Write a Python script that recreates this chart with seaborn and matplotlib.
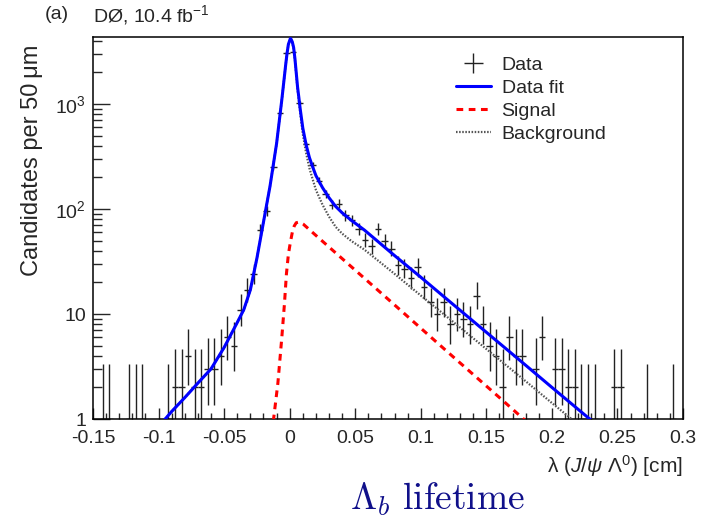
import numpy as np
import pandas as pd
import matplotlib
matplotlib.use("Agg")
import matplotlib.pyplot as plt
import seaborn as sns
from matplotlib.ticker import FixedLocator, FixedFormatter, LogLocator, NullFormatter

# ---------------- data ----------------
hist_lo, hist_hi, bin_width = -0.15, 0.30, 0.005
data_counts = [0, 1, 1, 0, 0, 1, 1, 1, 0, 0,
               0, 1, 2, 2, 4, 2, 2, 3, 3, 4,
               6, 5, 11, 17, 24, 63, 96, 251, 815, 3040,
               3150, 1028, 413, 262, 185, 138, 110, 112, 87, 78,
               65, 51, 44, 64, 50, 42, 29, 27, 22, 28,
               18, 13, 10, 13, 8, 10, 9, 8, 15, 8,
               5, 4, 2, 6, 4, 4, 0, 3, 6, 0,
               3, 3, 2, 2, 1, 1, 1, 0, 0, 2,
               2, 0, 0, 0, 1, 0, 0, 0, 1, 0]

fit_x = [-0.0965, -0.09, -0.08, -0.07, -0.06, -0.05, -0.04, -0.035, -0.03, -0.025,
         -0.02, -0.015, -0.01, -0.006, -0.003, -0.002, -0.001, 0.0005, 0.001, 0.002,
         0.003, 0.004, 0.005, 0.006, 0.007, 0.008, 0.010, 0.0125, 0.015, 0.0175,
         0.02, 0.025, 0.03, 0.035, 0.04, 0.047, 0.057, 0.08, 0.1, 0.12,
         0.15, 0.18, 0.2, 0.2314]
fit_total = [0.95, 1.18, 1.6, 2.2, 3.0, 4.8, 8.3, 11, 17, 34,
             75, 165, 420, 1100, 2400, 3050, 3700, 4200, 4150, 3900,
             3450, 2700, 1980, 1450, 1150, 900, 590, 410, 310, 252,
             208, 160, 128, 106, 92, 78, 63, 36, 22.4, 13.8,
             6.7, 3.25, 2.0, 0.94]
fit_bkg = [0.95, 1.18, 1.6, 2.2, 3.0, 4.8, 8.3, 11, 17, 34,
           75, 165, 419, 1094, 2383, 3030, 3665, 4152, 4097, 3840,
           3384, 2629, 1906, 1375, 1075, 826, 518, 342, 246, 192,
           152, 110, 84.5, 67.7, 58.3, 49.6, 41, 24.1, 15, 9.4,
           4.64, 2.29, 1.42, 0.68]
sig_x = [-0.0125, -0.009, -0.006, -0.004, -0.0025, -0.001, 0.0005, 0.002, 0.0035, 0.005,
         0.007, 0.009, 0.0102, 0.02, 0.04, 0.08, 0.12, 0.16, 0.18]
sig_y = [0.95, 2.2, 6, 12.5, 24, 37, 48, 60, 69, 74,
         75, 73.5, 72, 56, 33.7, 12.2, 4.4, 1.6, 0.96]

x_ticks = [-0.15, -0.1, -0.05, 0, 0.05, 0.1, 0.15, 0.2, 0.25, 0.3]
x_ticklabels = ["-0.15", "-0.1", "-0.05", "0", "0.05", "0.1", "0.15", "0.2", "0.25", "0.3"]
y_ticks = [1, 10, 100, 1000]
y_ticklabels = ["1", "10", r"$10^{2}$", r"$10^{3}$"]
legend_labels = ["Data", "Data fit", "Signal", "Background"]

# ---------------- style ----------------
sns.set_style("ticks")
plt.rcParams["font.family"] = ["Liberation Sans", "DejaVu Sans"]
plt.rcParams["mathtext.fontset"] = "custom"
plt.rcParams["mathtext.rm"] = "Liberation Sans"
plt.rcParams["mathtext.it"] = "Liberation Sans:italic"
plt.rcParams["mathtext.bf"] = "Liberation Sans:bold"

FS = 14

fig = plt.figure(figsize=(7.02, 5.30), dpi=100)
ax = fig.add_axes([0.1325, 0.2094, 0.8405, 0.7208])

# histogram points
edges = np.linspace(hist_lo, hist_hi, len(data_counts) + 1)
centers = 0.5 * (edges[:-1] + edges[1:])
counts = np.asarray(data_counts, dtype=float)
m = counts > 0
n = counts[m]
err_hi = np.sqrt(n + 0.75) + 1.0
err_lo = n - n * (1 - 1 / (9 * n) - 1 / (3 * np.sqrt(n))) ** 3
eb = ax.errorbar(centers[m], n, yerr=[err_lo, err_hi], xerr=bin_width / 2,
                 fmt="none", ecolor="#222222", elinewidth=1.0, capsize=0, zorder=2)

df_fit = pd.DataFrame({"x": fit_x, "total": fit_total, "bkg": fit_bkg})
df_sig = pd.DataFrame({"x": sig_x, "y": sig_y})

sns.lineplot(data=df_fit, x="x", y="bkg", ax=ax, color="#555555", linewidth=1.6,
             estimator=None, sort=False, zorder=3)
l_bkg = ax.lines[-1]
l_bkg.set_linestyle((0, (0.7, 0.7)))
sns.lineplot(data=df_sig, x="x", y="y", ax=ax, color="#ff0000", linewidth=2.2,
             estimator=None, sort=False, zorder=4)
l_sig = ax.lines[-1]
l_sig.set_linestyle((0, (2.2, 1.8)))
sns.lineplot(data=df_fit, x="x", y="total", ax=ax, color="#0000ff", linewidth=2.2,
             estimator=None, sort=False, zorder=5)
l_fit = ax.lines[-1]

ax.set_yscale("log")
ax.set_xlim(hist_lo, hist_hi)
ax.set_ylim(1, 4346)

ax.xaxis.set_major_locator(FixedLocator(x_ticks))
ax.xaxis.set_major_formatter(FixedFormatter(x_ticklabels))
ax.xaxis.set_minor_locator(FixedLocator(np.arange(-0.15, 0.3001, 0.01)))
ax.yaxis.set_major_locator(FixedLocator(y_ticks))
ax.yaxis.set_major_formatter(FixedFormatter(y_ticklabels))
ax.yaxis.set_minor_locator(LogLocator(base=10, subs=np.arange(2, 10)))
ax.yaxis.set_minor_formatter(NullFormatter())

ax.tick_params(axis="x", which="major", direction="in", length=8, width=1.0,
               labelsize=FS, pad=8, top=False)
ax.tick_params(axis="x", which="minor", direction="in", length=4, width=1.0, top=False)
ax.tick_params(axis="y", which="major", direction="in", length=12.5, width=1.0,
               labelsize=FS, pad=5, right=False)
ax.tick_params(axis="y", which="minor", direction="in", length=6.5, width=1.0, right=False)
for s in ax.spines.values():
    s.set_linewidth(1.1)
    s.set_color("black")

ax.set_ylabel("Candidates per 50\u2009μm", fontsize=17, loc="top")
ax.yaxis.set_label_coords(-0.085, 0.98)
ax.set_xlabel(r"λ ($J/\psi$ Λ$^{0}$) [cm]", fontsize=15, loc="right")
ax.xaxis.set_label_coords(1.0, -0.09)

leg = ax.legend(handles=[eb, l_fit, l_sig, l_bkg], labels=legend_labels,
                loc="upper left", bbox_to_anchor=(0.592, 0.985), frameon=False,
                fontsize=FS, handlelength=1.8, handletextpad=0.55,
                labelspacing=0.28, borderpad=0.2)

fig.text(0.064, 0.972, "(a)", fontsize=FS, ha="left", va="center")
fig.text(0.133, 0.972, r"DØ, 10.4 fb$^{-1}$", fontsize=FS, ha="left", va="center")

fig.text(0.623, 0.057, r"$\Lambda_b\ \mathrm{lifetime}$", fontsize=27, color="#10108a",
         ha="center", va="center", math_fontfamily="cm")

fig.savefig("out.png", dpi=100)
